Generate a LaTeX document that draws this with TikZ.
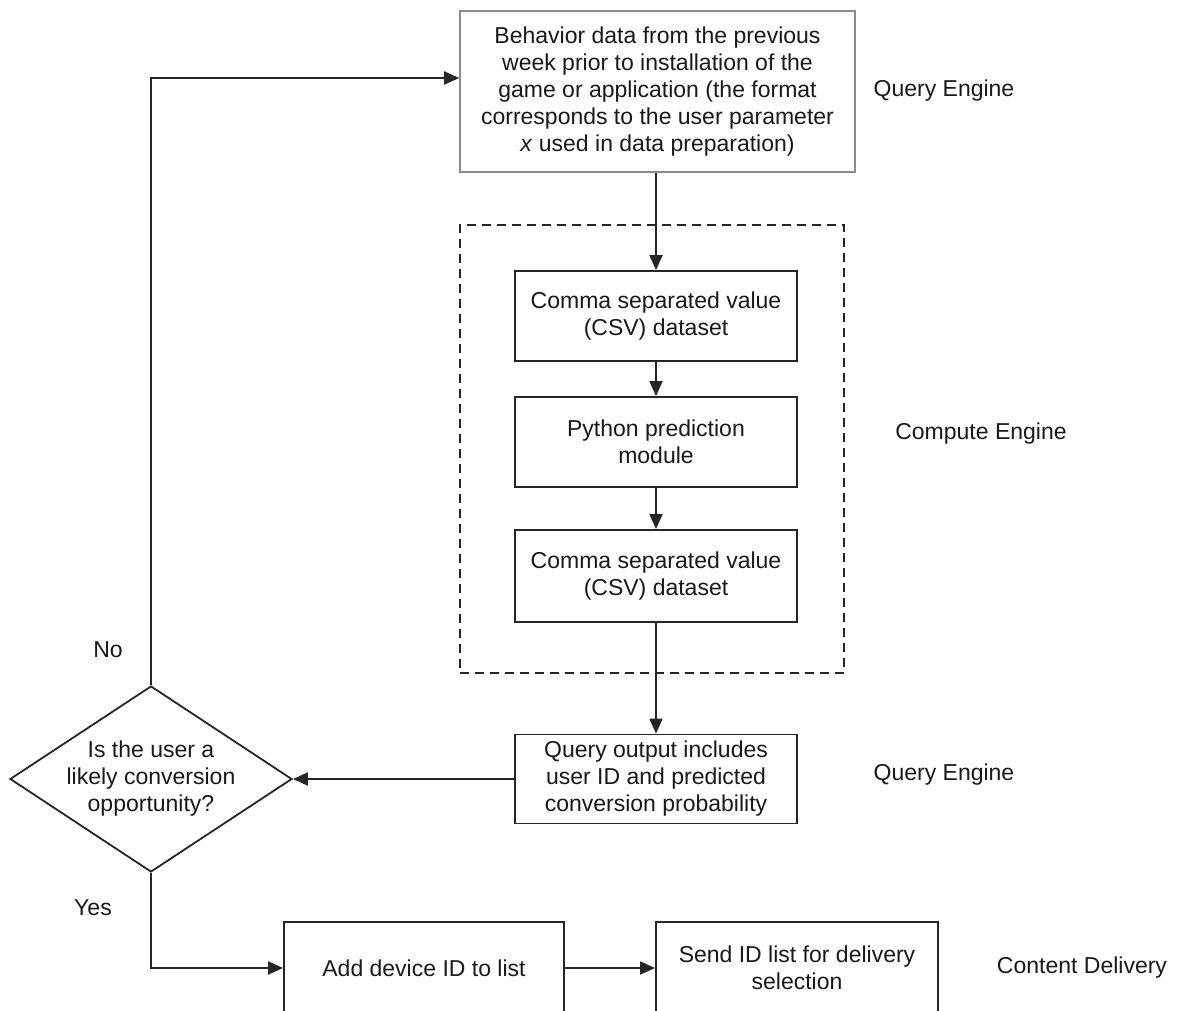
\documentclass[tikz,border=0pt]{standalone}
\usepackage{fontspec}
\setmainfont{Liberation Sans}
\usetikzlibrary{shapes.geometric,arrows.meta}
\begin{document}
\begin{tikzpicture}[x=1pt,y=-1pt,
  every node/.style={font=\fontsize{23}{27}\selectfont, text=black!90},
  box/.style={draw=black!85, line width=1.8pt, align=center, inner sep=0pt},
  graybox/.style={draw=black!45, line width=1.6pt, align=center, inner sep=0pt},
  conn/.style={line width=1.8pt, draw=black!85, -{Triangle[length=15pt,width=13pt]}},
  lbl/.style={inner sep=0pt}]
\useasboundingbox (0,0) rectangle (1179,1011);
\clip (0,0) rectangle (1179,1011);
\fill[white] (0,0) rectangle (1179,1011);

\node[graybox, minimum width=395pt, minimum height=161pt] (top) at (657.5,91.5)
  {Behavior data from the previous\\week prior to installation of the\\game or application (the format\\corresponds to the user parameter\\\textit{x} used in data preparation)};

\node[draw=black!85, line width=1.6pt, dash pattern=on 9pt off 6pt, minimum width=384pt, minimum height=448pt, inner sep=0pt] (group) at (652,449) {};

\node[box, minimum width=282pt, minimum height=90pt] (csv1) at (656,316) {Comma separated value\\(CSV) dataset};
\node[box, minimum width=282pt, minimum height=90pt] (py) at (656,442) {Python prediction\\module};
\node[box, minimum width=282pt, minimum height=92pt] (csv2) at (656,576) {Comma separated value\\(CSV) dataset};
\node[box, minimum width=282pt, minimum height=89pt] (qo) at (656,779) {Query output includes\\user ID and predicted\\conversion probability};

\node[diamond, draw=black!85, line width=1.8pt, minimum width=282pt, minimum height=186pt, inner sep=0pt] (dec) at (151,779) {};
\node[align=center, inner sep=0pt] (dectext) at (dec.center) {Is the user a\\likely conversion\\opportunity?};

\node[box, minimum width=280pt, minimum height=92pt] (add) at (424,968) {Add device ID to list};
\node[box, minimum width=282pt, minimum height=92pt] (send) at (797,968) {Send ID list for delivery\\selection};

\node[lbl] (l1) at (944,91) {Query Engine};
\node[lbl] (l2) at (981,434) {Compute Engine};
\node[lbl] (l3) at (944,775) {Query Engine};
\node[lbl] (l4) at (1082,968) {Content Delivery};
\node[lbl] (no) at (108,650) {No};
\node[lbl] (yes) at (93,908) {Yes};

\coordinate (c1) at (151,78);
\coordinate (c2) at (151,968);

\draw[conn] (csv1.north |- top.south) -- (csv1.north);
\draw[conn] (csv1.south) -- (py.north);
\draw[conn] (py.south) -- (csv2.north);
\draw[conn] (csv2.south) -- (qo.north);
\draw[conn] (qo.west) -- (dec.east);
\draw[conn] (dec.north) -- (c1) -- (top.west |- c1);
\draw[conn] (dec.south) -- (c2) -- (add.west);
\draw[conn] (add.east) -- (send.west);
\end{tikzpicture}
\end{document}
